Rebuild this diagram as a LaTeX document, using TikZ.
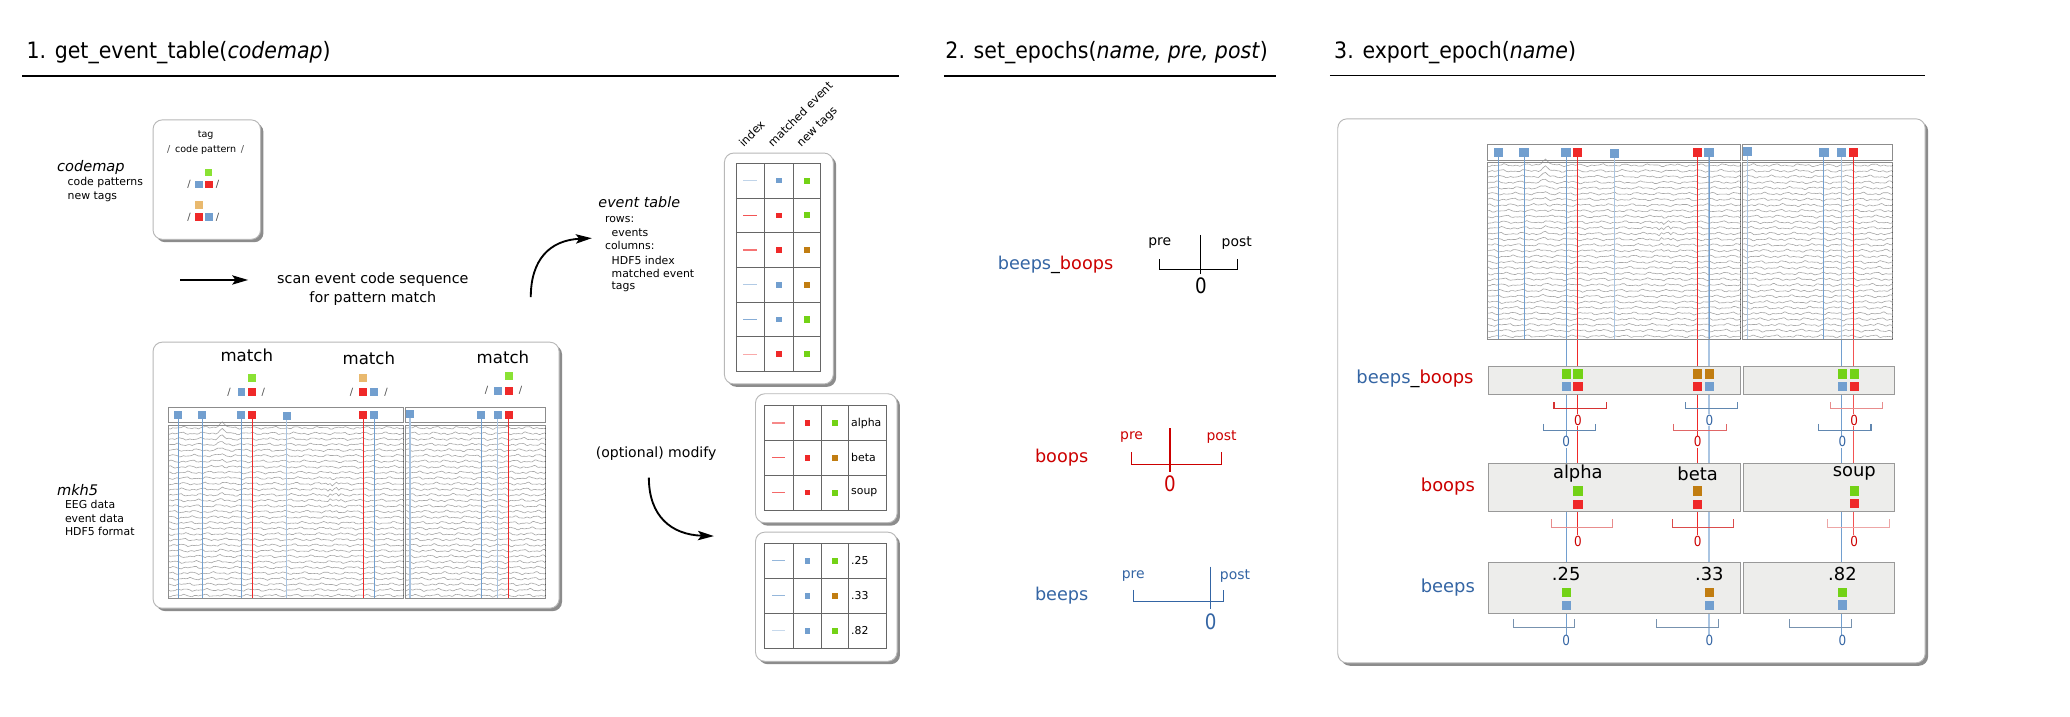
\documentclass[tikz,border=0pt]{standalone}
\usepackage{fontspec}
\setmainfont{DejaVu Sans}
\newfontfamily\titlefont{DejaVu Sans}[FakeStretch=0.91]
\newfontfamily\zerofont{DejaVu Sans}[FakeStretch=0.86]
\usetikzlibrary{shadows,arrows.meta}
\pgfdeclarelayer{back}
\pgfdeclarelayer{mid}
\pgfsetlayers{back,mid,main}

\definecolor{sqblue}{HTML}{729FCF}
\definecolor{sqred}{HTML}{EF2929}
\definecolor{sqgreen}{HTML}{8AE234}
\definecolor{sqgreenD}{HTML}{73D216}
\definecolor{sqtan}{HTML}{E9B96E}
\definecolor{sqbrown}{HTML}{C17D11}
\definecolor{txtblue}{HTML}{3465A4}
\definecolor{txtred}{HTML}{CC0000}
\definecolor{boxgray}{HTML}{EDEDEB}
\definecolor{tracegray}{HTML}{A6A6A6}

\newcommand{\fsz}[1]{\fontsize{#1}{#1}\selectfont}

\tikzset{
  roundbox/.style={draw=black!28, line width=0.7pt, rounded corners=7pt, fill=white,
     drop shadow={shadow xshift=2.2pt, shadow yshift=-2.2pt, fill=black!60, opacity=0.75},
     inner sep=0, anchor=north west},
  lbl/.style={inner sep=0, outer sep=0},
  sq/.style={fill=#1, inner sep=0, minimum size=5.5pt, draw=none},
  trace/.style={draw=tracegray, line width=0.45pt},
  panelframe/.style={draw=black!45, line width=0.55pt},
  tickedge/.style={draw=black!65, line width=0.7pt, dash pattern=on 0.6pt off 3.6pt},
  titleline/.style={draw=black, line width=1.3pt},
  titletext/.style={inner sep=0, outer sep=0, anchor=base west, font=\titlefont\fsz{17}},
  bigarrow/.style={line width=1.4pt, -{Stealth[length=12pt,width=7pt,inset=2.5pt]}},
  grayrow/.style={draw=black!40, fill=boxgray, line width=0.6pt, inner sep=0, anchor=north west},
  zerolab/.style={font=\zerofont\fsz{10.5}, fill=white, inner sep=0.4pt},
  bigzero/.style={font=\zerofont\fsz{16}, inner sep=0},
  gridline/.style={draw=black!60, line width=0.5pt},
  slash/.style={font=\fsz{7.5}, text=black!70, inner sep=0},
}

% EEG traces of one panel
\newcommand{\tracepanel}[3]{%
  \foreach \i in {1,...,31}{%
    \pgfmathsetmacro{\yy}{(\i-0.5)*#2/31}%
    \pgfmathsetmacro{\ba}{(#3==0)*5.5/(1+(\i-1)/2)}%
    \pgfmathsetmacro{\bb}{(#3==0)*1.4/(1+((\i-12)/2.5)^2)}%
    \draw[trace] plot[domain=0:#1, samples=110] (\x, {\yy + 0.55*sin(21*\x+37*\i+#3) + 0.42*sin(47*\x+71*\i+2*#3) + 0.25*sin(83*\x+13*\i) - \ba/(1+((\x-40)/1.6)^2) + \bb*sin(85*\x)/(1+((\x-125)/5)^2)});
  }}

% event strip + traces + event lines
\newcommand{\recording}[6]{%
\begin{scope}[shift={(#2,#3)}, xscale=#4, yscale=#5]
  \begin{scope}[shift={(0,13.3)}]\tracepanel{177.1}{130.6}{0}\end{scope}
  \begin{scope}[shift={(178.8,13.3)}]\tracepanel{105}{130.6}{97}\end{scope}
  \draw[panelframe] (0,13.3) rectangle (177.1,143.9);
  \draw[panelframe] (178.8,13.3) rectangle (283.8,143.9);
  \draw[tickedge] (177.1,15.3) -- (177.1,143.9);
  \draw[tickedge] (283.8,15.3) -- (283.8,143.9);
  \draw[panelframe] (0,0) rectangle (177.1,11.5);
  \draw[panelframe] (178.8,0) rectangle (283.8,11.5);
  \foreach \n/\ex/\ey/\lc/\lw/\sc in {1/7.5/5.8/sqblue/0.6/sqblue, 2/25.6/5.8/sqblue/0.6/sqblue,
      3/55/5.8/sqblue/0.6/sqblue, 4/63.2/5.8/sqred/0.6/sqred, 5/89.1/6.8/sqblue!60/1.1/sqblue,
      6/146.9/5.8/sqred/0.6/sqred, 7/155.1/5.8/sqblue/0.6/sqblue, 8/182.1/5.2/sqblue!60/1.1/sqblue,
      9/235.6/5.8/sqblue/0.6/sqblue, 10/248.1/5.8/sqblue!60/0.8/sqblue, 11/256.4/5.8/sqred/0.6/sqred}{%
    \coordinate (#1-e\n) at (\ex,\ey);
    \draw[draw=\lc, line width=\lw pt] (\ex,\ey) -- (\ex,143.9);
    \node[sq=\sc, minimum size=#6] (#1-s\n) at (\ex,\ey) {};
  }
\end{scope}}

% bracket: x, y, pre, post, tick, color
\newcommand{\brk}[6]{\draw[draw=#6, line width=0.8pt] (#1-#3,#2-#5) -- (#1-#3,#2) -- (#1+#4,#2) -- (#1+#4,#2-#5);}

\begin{document}
\begin{tikzpicture}[x=1pt,y=-1pt]
\begin{pgfonlayer}{back}
\fill[white] (0,0) rectangle (1560,540);
\end{pgfonlayer}
\useasboundingbox (0,0) rectangle (1560,540);

% ---------------- titles ----------------
\node[titletext] (t1) at (20,44) {1. get\_event\_table(\textit{codemap})};
\node[titletext] (t2) at (712.5,44) {2. set\_epochs(\textit{name, pre, post})};
\node[titletext] (t3) at (1005.5,44) {3. export\_epoch(\textit{name})};
\coordinate (u1a) at (16.8,57.5); \coordinate (u1b) at (677.6,57.5);
\coordinate (u2a) at (711.3,57.5); \coordinate (u2b) at (961.3,57.5);
\coordinate (u3a) at (1002.3,57); \coordinate (u3b) at (1450.5,57);
\draw[titleline] (u1a) -- (u1b);
\draw[titleline] (u2a) -- (u2b);
\draw[titleline] (u3a) -- (u3b);

% ---------------- big boxes ----------------
\begin{pgfonlayer}{back}
\node[roundbox, minimum width=81pt, minimum height=90pt] (cmbox) at (115,90) {};
\node[roundbox, minimum width=306pt, minimum height=200.5pt] (mkbox) at (115,257.5) {};
\node[roundbox, minimum width=82pt, minimum height=174pt] (etbox) at (545.6,115) {};
\node[roundbox, minimum width=106.7pt, minimum height=97.2pt] (m1box) at (569,296.4) {};
\node[roundbox, minimum width=106.7pt, minimum height=97.3pt] (m2box) at (569,400.7) {};
\node[roundbox, minimum width=442.7pt, minimum height=410pt] (exbox) at (1007.8,89.2) {};
\end{pgfonlayer}

% ---------------- codemap ----------------
\node[lbl, anchor=west, font=\fsz{11}\itshape] (cmlab) at (43,126) {codemap};
\node[lbl, anchor=west, font=\fsz{8.2}] (cml1) at (51,137.5) {code patterns};
\node[lbl, anchor=west, font=\fsz{8.2}] (cml2) at (51,148.5) {new tags};
\node[lbl, font=\fsz{7.2}] (cmtag) at (155,102) {tag};
\node[lbl, font=\fsz{7.2}] (cmpat) at (155,113) {{\color{black!70}/}\, code pattern \,{\color{black!70}/}};
\node[sq=sqgreen] (cmg1) at (157,130) {};
\node[sq=sqblue] (cmb1) at (150,139) {};
\node[sq=sqred] (cmr1) at (157.5,139) {};
\node[slash] (cms1) at (142.5,139) {/};
\node[slash] (cms2) at (164,139) {/};
\node[sq=sqtan] (cmo2) at (150,154.5) {};
\node[sq=sqred] (cmr2) at (150,163.5) {};
\node[sq=sqblue] (cmb2) at (157.5,163.5) {};
\node[slash] (cms3) at (142.5,163.5) {/};
\node[slash] (cms4) at (164,163.5) {/};

% ---------------- scan arrow ----------------
\coordinate (a1s) at (136,211); \coordinate (a1e) at (187,211);
\draw[bigarrow] (a1s) -- (a1e);
\node[lbl, font=\fsz{10.8}] (scan1) at (281,211) {scan event code sequence};
\node[lbl, font=\fsz{10.8}] (scan2) at (281,225) {for pattern match};

\coordinate (a2s) at (400,224); \coordinate (a2e) at (446,179.5);
\draw[bigarrow] (a2s) .. controls (400,196) and (414,181) .. (a2e);

% ---------------- event table legend ----------------
\node[lbl, anchor=west, font=\fsz{10.8}\itshape] (etlab) at (451,152.7) {event table};
\node[lbl, anchor=west, font=\fsz{8.2}] (et1) at (456,165.3) {rows:};
\node[lbl, anchor=west, font=\fsz{8.2}] (et2) at (461,175.2) {events};
\node[lbl, anchor=west, font=\fsz{8.2}] (et3) at (456,185.2) {columns:};
\node[lbl, anchor=west, font=\fsz{8.2}] (et4) at (461,195.9) {HDF5 index};
\node[lbl, anchor=west, font=\fsz{8.2}] (et5) at (461,206) {matched event};
\node[lbl, anchor=west, font=\fsz{8.2}] (et6) at (461,216) {tags};

% ---------------- event table ----------------
\node[lbl, rotate=45, anchor=base west, font=\fsz{8.5}] (hidx) at (560.5,111) {index};
\node[lbl, rotate=45, anchor=base west, font=\fsz{8.5}] (hme) at (582.5,111) {matched event};
\node[lbl, rotate=45, anchor=base west, font=\fsz{8.5}] (hnt) at (604,111) {new tags};
\draw[gridline] (554.6,123) rectangle (618,280);
\foreach \gx in {576,597.8} \draw[gridline] (\gx,123) -- (\gx,280);
\foreach \k in {1,...,5} \draw[gridline] (554.6,123+\k*26.167) -- (618,123+\k*26.167);
\foreach \k/\lc/\mc/\tc in {0/sqblue!45/sqblue/sqgreenD, 1/sqred!80/sqred/sqgreenD, 2/sqred!65/sqred/sqbrown,
    3/sqblue!55/sqblue/sqbrown, 4/sqblue!85/sqblue/sqgreenD, 5/sqred!40/sqred/sqgreenD}{%
  \pgfmathsetmacro{\ry}{136.08+\k*26.167}
  \draw[draw=\lc, line width=0.8pt] (560.3,\ry) -- (570.3,\ry);
  \node[sq=\mc, minimum size=4.2pt] (etm\k) at (586.9,\ry) {};
  \node[sq=\tc, minimum size=4.6pt] (ett\k) at (607.9,\ry) {};
}

% ---------------- mkh5 ----------------
\node[lbl, anchor=west, font=\fsz{11}\itshape] (mklab) at (43,369) {mkh5};
\node[lbl, anchor=west, font=\fsz{8.2}] (mk1) at (49,380.5) {EEG data};
\node[lbl, anchor=west, font=\fsz{8.2}] (mk2) at (49,390.5) {event data};
\node[lbl, anchor=west, font=\fsz{8.2}] (mk3) at (49,400.5) {HDF5 format};

\node[lbl, font=\fsz{12.5}] (match1) at (186,267.5) {match};
\node[lbl, font=\fsz{12.5}] (match2) at (278,270) {match};
\node[lbl, font=\fsz{12.5}] (match3) at (379,269) {match};
\node[sq=sqgreen, minimum size=6pt] (mg1) at (190,285) {};
\node[sq=sqblue, minimum size=6pt] (mb1) at (182,295.5) {};
\node[sq=sqred, minimum size=6pt] (mr1) at (190,295.5) {};
\node[slash] (ms1a) at (172.6,295.5) {/};
\node[slash] (ms1b) at (198.5,295.5) {/};
\node[sq=sqtan, minimum size=6pt] (mo2) at (273.5,285) {};
\node[sq=sqred, minimum size=6pt] (mr2) at (273.5,295.5) {};
\node[sq=sqblue, minimum size=6pt] (mb2) at (281.8,295.5) {};
\node[slash] (ms2a) at (265,295.5) {/};
\node[slash] (ms2b) at (291,295.5) {/};
\node[sq=sqgreen, minimum size=6pt] (mg3) at (383.6,283.5) {};
\node[sq=sqblue, minimum size=6pt] (mb3) at (375,294.4) {};
\node[sq=sqred, minimum size=6pt] (mr3) at (383.6,294.4) {};
\node[slash] (ms3a) at (366.7,294.4) {/};
\node[slash] (ms3b) at (392.3,294.4) {/};

\recording{m}{126.9}{307}{1}{1}{6pt}

% ---------------- optional modify ----------------
\node[lbl, anchor=west, font=\fsz{10.6}] (optm) at (449,341.5) {(optional) modify};
\coordinate (a3s) at (489,360); \coordinate (a3e) at (538,404);
\draw[bigarrow] (a3s) .. controls (489,389) and (506,403) .. (a3e);

% modified table 1
\draw[gridline] (576,305.7) rectangle (668.2,384.3);
\foreach \gx in {597.8,619.2,639.3} \draw[gridline] (\gx,305.7) -- (\gx,384.3);
\foreach \k in {1,2} \draw[gridline] (576,305.7+\k*26.2) -- (668.2,305.7+\k*26.2);
\foreach \k/\lc/\tc/\tx in {0/sqred!55/sqgreenD/alpha, 1/sqred!75/sqbrown/beta, 2/sqred!70/sqgreenD/soup}{%
  \pgfmathsetmacro{\ry}{318.8+\k*26.2}
  \draw[draw=\lc, line width=0.8pt] (581.9,\ry) -- (591.9,\ry);
  \node[sq=sqred, minimum size=4.2pt] (amq\k) at (608.5,\ry) {};
  \node[sq=\tc, minimum size=4.6pt] (atq\k) at (629.3,\ry) {};
  \node[lbl, anchor=west, font=\fsz{8.2}] (atx\k) at (641.5,\ry) {\tx};
}
% modified table 2
\draw[gridline] (576,409.4) rectangle (668.2,488.6);
\foreach \gx in {597.8,619.2,639.3} \draw[gridline] (\gx,409.4) -- (\gx,488.6);
\foreach \k in {1,2} \draw[gridline] (576,409.4+\k*26.4) -- (668.2,409.4+\k*26.4);
\foreach \k/\lc/\tc/\tx in {0/sqblue!75/sqgreenD/.25, 1/sqblue!75/sqbrown/.33, 2/sqblue!40/sqgreenD/.82}{%
  \pgfmathsetmacro{\ry}{422.6+\k*26.4}
  \draw[draw=\lc, line width=0.8pt] (581.9,\ry) -- (591.9,\ry);
  \node[sq=sqblue, minimum size=4.2pt] (bmq\k) at (608.5,\ry) {};
  \node[sq=\tc, minimum size=4.6pt] (btq\k) at (629.3,\ry) {};
  \node[lbl, anchor=west, font=\fsz{8.2}] (btx\k) at (641.5,\ry) {\tx};
}

% ---------------- set_epochs ----------------
\node[lbl, anchor=west, font=\fsz{13.3}] (sbb) at (752,199.7) {{\color{txtblue}beeps}\_{\color{txtred}boops}};
\draw[black, line width=0.9pt] (905,177) -- (905,206.5);
\brk{905}{203}{31}{27.4}{7.6}{black}
\node[lbl, font=\fsz{10.5}] (sbbpre) at (874,183) {pre};
\node[lbl, font=\fsz{10.5}] (sbbpost) at (932,183) {post};
\node[bigzero] (sbb0) at (905,215.6) {0};

\node[lbl, anchor=west, font=\fsz{13.3}, text=txtred] (sbo) at (780,344.6) {boops};
\draw[txtred, line width=0.9pt] (881.7,322.7) -- (881.7,355.4);
\brk{881.7}{350}{28.9}{38.9}{9.1}{txtred}
\node[lbl, font=\fsz{10.5}, text=txtred] (sbopre) at (852.8,329.6) {pre};
\node[lbl, font=\fsz{10.5}, text=txtred] (sbopost) at (920.6,329.6) {post};
\node[bigzero, text=txtred] (sbo0) at (881.7,364.7) {0};

\node[lbl, anchor=west, font=\fsz{13.3}, text=txtblue] (sbe) at (780,449) {beeps};
\draw[txtblue, line width=0.9pt] (912.3,427) -- (912.3,459);
\brk{912.3}{453.6}{58.3}{9.6}{9}{txtblue}
\node[lbl, font=\fsz{10.5}, text=txtblue] (sbepre) at (854,433.8) {pre};
\node[lbl, font=\fsz{10.5}, text=txtblue] (sbepost) at (930.7,433.8) {post};
\node[bigzero, text=txtblue] (sbe0) at (912.3,468.5) {0};

% ---------------- export_epoch ----------------
\begin{scope}[shift={(-6,0)}]
\recording{x}{1127}{108.8}{1.076}{1.02}{7pt}

\node[lbl, anchor=east, font=\fsz{13.5}] (xbb) at (1116.5,285.6) {{\color{txtblue}beeps}\_{\color{txtred}boops}};
\node[lbl, anchor=east, font=\fsz{13.5}, text=txtred] (xbo) at (1117.5,367) {boops};
\node[lbl, anchor=east, font=\fsz{13.5}, text=txtblue] (xbe) at (1117.5,442.6) {beeps};

% gray row boxes
\node[grayrow, minimum width=190.6pt, minimum height=21pt] (rbb1) at (1127,276) {};
\node[grayrow, minimum width=113.5pt, minimum height=21pt] (rbb2) at (1319.6,276) {};
\node[grayrow, minimum width=190.6pt, minimum height=36.8pt] (rbo1) at (1127,348.6) {};
\node[grayrow, minimum width=113.5pt, minimum height=36.8pt] (rbo2) at (1319.6,348.6) {};
\node[grayrow, minimum width=190.6pt, minimum height=38.3pt] (rbe1) at (1127,423.7) {};
\node[grayrow, minimum width=113.5pt, minimum height=38.3pt] (rbe2) at (1319.6,423.7) {};

% beeps_boops squares
\node[sq=sqgreenD, minimum size=7pt] (q1a) at (1186.3,281.8) {};
\node[sq=sqgreenD, minimum size=7pt] (q1b) at (1195.1,281.8) {};
\node[sq=sqblue, minimum size=7pt] (q1c) at (1186.3,291.3) {};
\node[sq=sqred, minimum size=7pt] (q1d) at (1195.1,291.3) {};
\node[sq=sqbrown, minimum size=7pt] (q2a) at (1285.4,281.8) {};
\node[sq=sqbrown, minimum size=7pt] (q2b) at (1294.2,281.8) {};
\node[sq=sqred, minimum size=7pt] (q2c) at (1285.4,291.3) {};
\node[sq=sqblue, minimum size=7pt] (q2d) at (1294.2,291.3) {};
\node[sq=sqgreenD, minimum size=7pt] (q3a) at (1394.5,281.8) {};
\node[sq=sqgreenD, minimum size=7pt] (q3b) at (1403.4,281.8) {};
\node[sq=sqblue, minimum size=7pt] (q3c) at (1394.5,291.3) {};
\node[sq=sqred, minimum size=7pt] (q3d) at (1403.4,291.3) {};

% upper / lower brackets below beeps_boops
\brk{1195.1}{307.8}{18}{21.5}{4.6}{txtred!80}
\brk{1294.2}{307.8}{18}{21.5}{4.6}{sqblue!85!black}
\brk{1403.4}{307.8}{18}{21.5}{4.6}{txtred!45}
\brk{1186.3}{324.1}{17}{22.3}{4.7}{sqblue!85!black}
\brk{1285.4}{324.1}{18}{21.5}{4.7}{txtred!60}
\brk{1394.5}{324.1}{18}{21.5}{4.7}{sqblue!85!black}
\node[zerolab, text=txtred] (zu1) at (1195.1,316.6) {0};
\node[zerolab, text=txtblue] (zu2) at (1294.2,316.6) {0};
\node[zerolab, text=txtred] (zu3) at (1403.4,316.6) {0};
\node[zerolab, text=txtblue] (zl1) at (1186.3,333) {0};
\node[zerolab, text=txtred] (zl2) at (1285.4,333) {0};
\node[zerolab, text=txtblue] (zl3) at (1394.5,333) {0};

% boops row
\node[lbl, font=\fsz{13.5}] (xalpha) at (1195.1,357) {alpha};
\node[lbl, font=\fsz{13.5}] (xbeta) at (1285.4,357) {beta};
\node[lbl, font=\fsz{13.5}] (xsoup) at (1403.4,357) {soup};
\node[sq=sqgreenD, minimum size=7pt] (o1a) at (1195.1,370) {};
\node[sq=sqred, minimum size=7pt] (o1b) at (1195.1,380) {};
\node[sq=sqbrown, minimum size=7pt] (o2a) at (1285.4,370) {};
\node[sq=sqred, minimum size=7pt] (o2b) at (1285.4,380) {};
\node[sq=sqgreenD, minimum size=7pt] (o3a) at (1403.4,370) {};
\node[sq=sqred, minimum size=7pt] (o3b) at (1403.4,379.5) {};
\brk{1195.1}{397.2}{20}{26.4}{5.8}{txtred!45}
\brk{1285.4}{397.2}{19.3}{26.8}{5.8}{txtred!70}
\brk{1403.4}{397.2}{20.2}{26.2}{5.8}{txtred!35}
\node[zerolab, text=txtred] (zr1) at (1195.1,407.8) {0};
\node[zerolab, text=txtred] (zr2) at (1285.4,407.8) {0};
\node[zerolab, text=txtred] (zr3) at (1403.4,407.8) {0};

% beeps row
\node[lbl, font=\fsz{13.5}] (x25) at (1186.3,432.5) {.25};
\node[lbl, font=\fsz{13.5}] (x33) at (1294.2,432.5) {.33};
\node[lbl, font=\fsz{13.5}] (x82) at (1394.5,432.5) {.82};
\node[sq=sqgreenD, minimum size=7pt] (e1a) at (1186.3,446.4) {};
\node[sq=sqblue, minimum size=7pt] (e1b) at (1186.3,456.4) {};
\node[sq=sqbrown, minimum size=7pt] (e2a) at (1294.2,446.4) {};
\node[sq=sqblue, minimum size=7pt] (e2b) at (1294.2,456.4) {};
\node[sq=sqgreenD, minimum size=7pt] (e3a) at (1394.5,446.4) {};
\node[sq=sqblue, minimum size=7pt] (e3b) at (1394.5,455.9) {};
\brk{1186.3}{472.8}{40}{6.6}{6}{sqblue!75!black!80}
\brk{1294.2}{472.8}{40}{6.6}{6}{sqblue!75!black!80}
\brk{1394.5}{472.8}{40}{6.6}{6}{sqblue!75!black!80}
\node[zerolab, text=txtblue] (zb1) at (1186.3,483) {0};
\node[zerolab, text=txtblue] (zb2) at (1294.2,483) {0};
\node[zerolab, text=txtblue] (zb3) at (1394.5,483) {0};

% continuing event lines (behind the rows and labels)
\begin{pgfonlayer}{mid}
\draw[draw=sqblue, line width=0.6pt] (x-e3) -- (x-e3 |- zb1.center);
\draw[draw=sqred, line width=0.6pt] (x-e4) -- (x-e4 |- zr1.center);
\draw[draw=sqred, line width=0.6pt] (x-e6) -- (x-e6 |- zr2.center);
\draw[draw=sqblue!60, line width=1.1pt] (x-e7) -- (x-e7 |- zb2.center);
\draw[draw=sqblue, line width=0.6pt] (x-e10) -- (x-e10 |- zb3.center);
\draw[draw=sqred!80, line width=0.6pt] (x-e11) -- (x-e11 |- zr3.center);
\end{pgfonlayer}
\end{scope}
\end{tikzpicture}
\end{document}
